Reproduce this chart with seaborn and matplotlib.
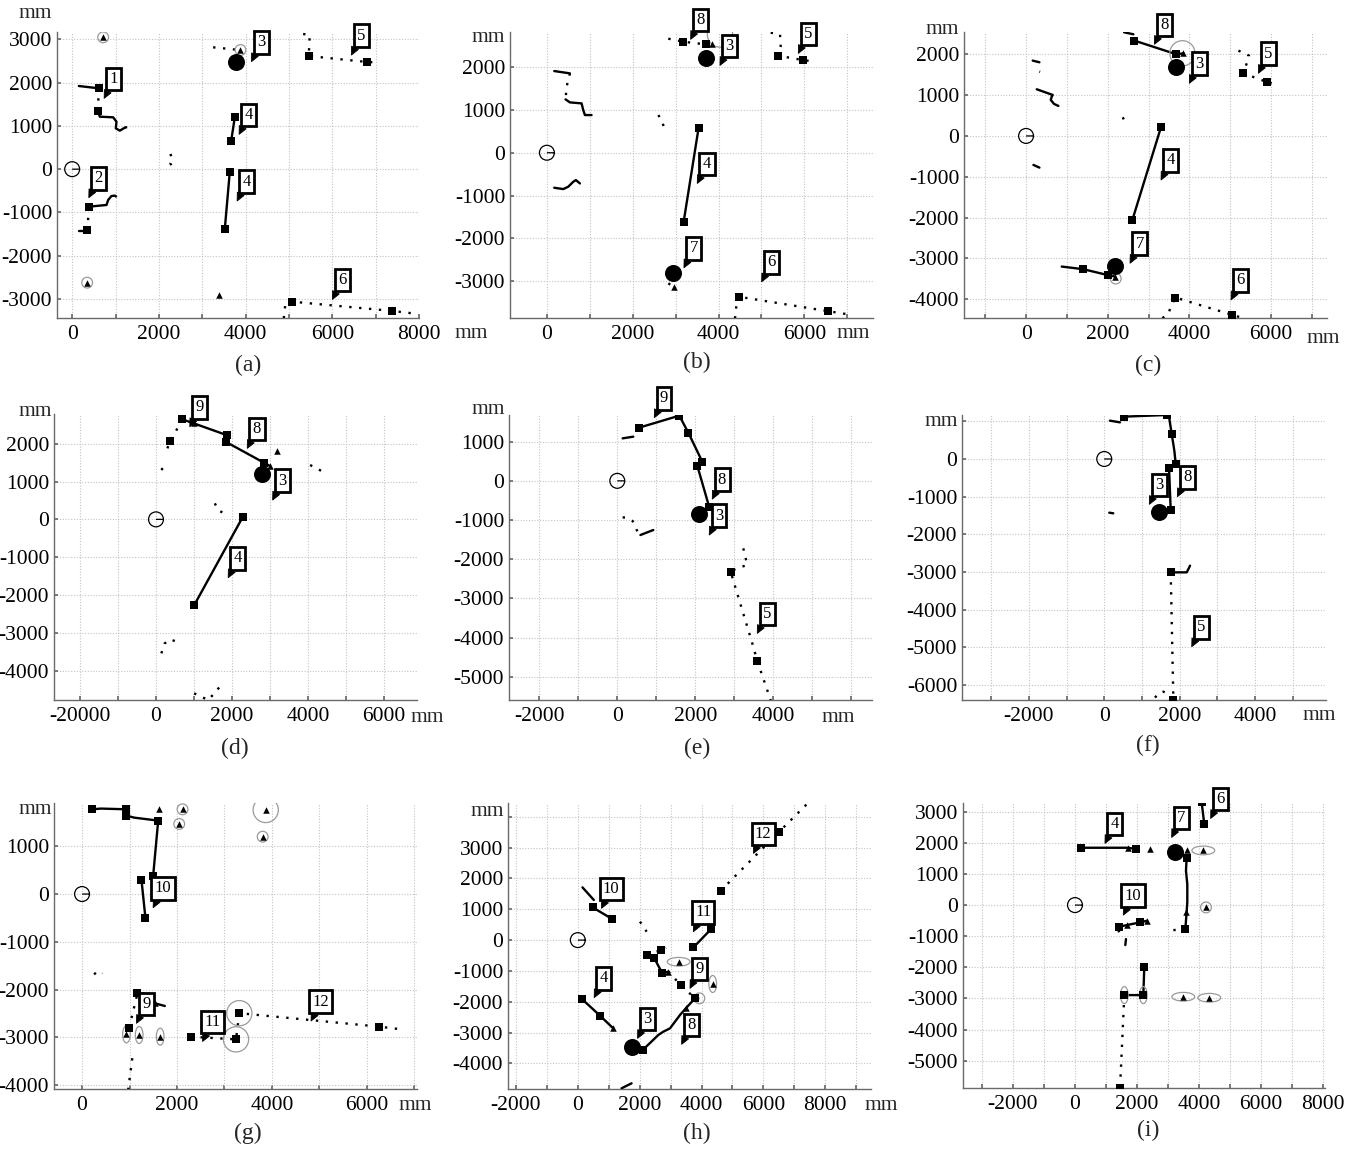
import matplotlib
matplotlib.use("Agg")
import matplotlib.pyplot as plt
import seaborn as sns
from matplotlib.path import Path
from matplotlib.transforms import Affine2D

# ---------------------------------------------------------------- data
ORIGIN = (0, 0)

# ---- panel (a)
A_XLIM = (-350, 8000); A_YLIM = (-3440, 3170)
A_XLAB = [0, 2000, 4000, 6000, 8000]
A_YLAB = [-3000, -2000, -1000, 0, 1000, 2000, 3000]
A_SOLID = [[(154, 1922), (615, 1868)],
           [(592, 1344), (638, 1213), (945, 1198), (1022, 1098), (1007, 944), (1099, 890), (1214, 959)],
           [(154, -1429), (346, -1429)],
           [(392, -866), (792, -828), (830, -713), (907, -620), (984, -612)],
           [(3666, 643), (3751, 1198)],
           [(3636, -58), (3520, -1390)]]
A_DOTTED = [[(615, 1868), (592, 1344)],
            [(1214, 959), (1330, 990)],
            [(346, -1406), (392, -866)],
            [(984, -612), (1099, -690)],
            [(2267, 351), (2313, 213), (2267, 135), (2313, 19)],
            [(3251, 2816), (3866, 2754)],
            [(5327, 3124), (5480, 3100), (5457, 2615), (6810, 2476), (7002, 2469)],
            [(4881, -3447), (4919, -3100), (5065, -3062), (7387, -3277), (7840, -3331)]]
A_SQUARES = [(615, 1868), (592, 1344), (346, -1406), (392, -866), (3666, 643), (3751, 1198),
             (3636, -58), (3520, -1390), (5457, 2615), (6810, 2476), (5065, -3062), (7387, -3277)]
A_DISCS = [(3774, 2469)]
A_TRIS = [(715, 3047), (346, -2623), (3382, -2908), (3882, 2754)]
A_RINGS = [(715, 3047), (346, -2623), (3882, 2754)]
A_RINGS_BIG = []; A_RINGS_WIDE = []; A_RINGS_TALL = []
A_LABELS = [("1", 738, 1637), ("2", 384, -659), ("3", 4135, 2485), ("4", 3851, 805),
            ("4", 3805, -735), ("5", 6441, 2638), ("6", 6003, -3010)]

# ---- panel (b)
B_XLIM = (-860, 7600); B_YLIM = (-3860, 2820)
B_XLAB = [0, 2000, 4000, 6000]
B_YLAB = [-3000, -2000, -1000, 0, 1000, 2000]
B_SOLID = [[(171, 1908), (536, 1854)],
           [(435, 1246), (536, 1176), (808, 1153), (847, 997), (886, 880), (1041, 880)],
           [(171, -818), (381, -849), (497, -794), (614, -678), (676, -639), (769, -717)],
           [(3536, 584), (3186, -1620)]]
B_DOTTED = [[(536, 1854), (459, 1542), (435, 1246)],
            [(2596, 880), (2673, 763), (2712, 646), (2751, 530)],
            [(2829, 2664), (3179, 2593), (3699, 2531), (3839, 2547)],
            [(5215, 2804), (5433, 2765), (5448, 2477), (5394, 2266), (5961, 2165), (6132, 2142)],
            [(4383, -3871), (4438, -3364), (4477, -3364), (6544, -3699), (6987, -3769)],
            [(2830, -3050), (2953, -3131)]]
B_SQUARES = [(3536, 584), (3186, -1620), (3179, 2593), (3699, 2531), (5394, 2266), (5961, 2165),
             (4477, -3364), (6544, -3699)]
B_DISCS = [(3707, 2220), (2930, -2819)]
B_TRIS = [(3839, 2547), (2953, -3131)]
B_RINGS = []; B_RINGS_BIG = [(4034, 2760)]; B_RINGS_WIDE = []; B_RINGS_TALL = []
B_LABELS = [("8", 3350, 2648), ("3", 4034, 2040), ("5", 5860, 2321), ("4", 3505, -717),
            ("7", 3194, -2687), ("6", 5005, -3014)]

# ---- panel (c)
C_XLIM = (-1520, 7370); C_YLIM = (-4460, 2546)
C_XLAB = [0, 2000, 4000, 6000]
C_YLAB = [-4000, -3000, -2000, -1000, 0, 1000, 2000]
C_SOLID = [[(163, 1845), (327, 1804)],
           [(261, 1143), (653, 1004), (629, 963), (604, 882), (686, 784), (792, 735)],
           [(180, -710), (327, -776)],
           [(3306, 220), (2604, -2057)],
           [(2400, 2539), (2629, 2490)],
           [(2653, 2335), (3682, 2000), (3853, 2024)],
           [(873, -3200), (1404, -3265), (2016, -3412), (2180, -3445)]]
C_DOTTED = [[(327, 1576), (345, 1570)],
            [(2367, 457), (2400, 392), (2506, 269)],
            [(5200, 2090), (5461, 1967), (5404, 1780), (5322, 1535), (5894, 1322), (6016, 1290)],
            [(3339, -4465), (3486, -4343), (3551, -4180), (3657, -3959), (5053, -4384), (5322, -4465)]]
C_SQUARES = [(3306, 220), (2604, -2057), (2653, 2335), (3682, 2000), (5322, 1535), (5894, 1322),
             (1404, -3265), (2016, -3412), (3657, -3959), (5053, -4384)]
C_DISCS = [(3682, 1682), (2180, -3176)]
C_TRIS = [(3853, 2024), (2180, -3445)]
C_RINGS = [(2196, -3494)]; C_RINGS_BIG = [(3829, 2024)]; C_RINGS_WIDE = []; C_RINGS_TALL = []
C_LABELS = [("8", 3143, 2245), ("3", 4000, 1290), ("5", 5690, 1535), ("4", 3306, -1078),
            ("7", 2547, -3118), ("6", 5020, -4016)]

# ---- panel (d)
D_XLIM = (-2684, 6868); D_YLIM = (-4775, 2785)
D_XLAB = [-2000, 0, 2000, 4000, 6000]
D_XLAB_TEXT = ["-20000", "0", "2000", "4000", "6000"]
D_YLAB = [-4000, -3000, -2000, -1000, 0, 1000, 2000]
D_SOLID = [[(695, 2643), (1100, 2500), (1856, 2229)],
           [(1830, 2053), (2841, 1498), (3000, 1410)],
           [(2287, 70), (1003, -2273)]]
D_DOTTED = [[(141, 1304), (273, 1480)],
            [(299, 1877), (378, 2070), (695, 2643)],
            [(4056, 1436), (4390, 1260)],
            [(1548, 423), (1636, 247), (1786, 159)],
            [(141, -3542), (229, -3278), (378, -3172), (537, -3233), (607, -3322)],
            [(1003, -4599), (1372, -4775), (1575, -4555), (1724, -4361)]]
D_SQUARES = [(378, 2070), (695, 2643), (1856, 2229), (1830, 2053), (2841, 1498), (2287, 70), (1003, -2273)]
D_DISCS = [(2780, 1189)]
D_TRIS = [(3000, 1410), (3176, 1815), (1000, 2560)]
D_RINGS = []; D_RINGS_BIG = []; D_RINGS_WIDE = []; D_RINGS_TALL = []
D_LABELS = [("9", 889, 2449), ("8", 2402, 1877), ("3", 3070, 511), ("4", 1900, -1542)]

# ---- panel (e)
E_XLIM = (-2777, 6531); E_YLIM = (-5595, 1681)
E_XLAB = [-2000, 0, 2000, 4000]
E_YLAB = [-5000, -4000, -3000, -2000, -1000, 0, 1000]
E_SOLID = [[(137, 1085), (410, 1128)],
           [(556, 1357), (1590, 1664), (1821, 1230), (2179, 489), (2051, 387), (2359, -677), (2103, -855)],
           [(593, -1383), (923, -1255)]]
E_DOTTED = [[(137, -932), (239, -940), (393, -1026), (538, -1340), (593, -1383)],
            [(3231, -1723), (3333, -2149), (3060, -2234), (2906, -2319), (3462, -4149), (3590, -4600), (3932, -5596)]]
E_SQUARES = [(556, 1357), (1590, 1664), (1821, 1230), (2179, 489), (2051, 387), (2359, -677),
             (2906, -2319), (3590, -4600)]
E_DISCS = [(2103, -855)]
E_TRIS = []
E_RINGS = []; E_RINGS_BIG = []; E_RINGS_WIDE = []; E_RINGS_TALL = []
E_LABELS = [("9", 949, 1613), ("8", 2436, -464), ("3", 2359, -1383), ("5", 3590, -3894)]

# ---- panel (f)
F_XLIM = (-3770, 5877); F_YLIM = (-6398, 1168)
F_XLAB = [-2000, 0, 2000, 4000]
F_YLAB = [-6000, -5000, -4000, -3000, -2000, -1000, 0]
F_SOLID = [[(150, 1018), (416, 973)],
           [(522, 1124), (1655, 1168), (1720, 1100), (1788, 664), (1830, 400), (1860, 200), (1894, -133)],
           [(1717, -230), (1761, -1354)],
           [(133, -1425), (239, -1442)],
           [(1761, -3009), (2186, -3009), (2274, -2832)]]
F_DOTTED = [[(1761, -3009), (1832, -6398)],
            [(1345, -6336), (1434, -6221), (1566, -6177), (1655, -6221)]]
F_SQUARES = [(522, 1124), (1655, 1168), (1788, 664), (1894, -133), (1717, -230), (1761, -1354),
             (1761, -3009), (1832, -6398)]
F_DISCS = [(1460, -1398)]
F_TRIS = []
F_RINGS = []; F_RINGS_BIG = []; F_RINGS_WIDE = []; F_RINGS_TALL = []
F_LABELS = [("9", 1097, 1257), ("8", 1938, -1000), ("3", 1195, -1204), ("5", 2319, -4982)]

# ---- panel (g)
G_XLIM = (-591, 7056); G_YLIM = (-4084, 1907)
G_XLAB = [0, 2000, 4000, 6000]
G_YLAB = [-4000, -3000, -2000, -1000, 0, 1000]
G_SOLID = [[(211, 1775), (400, 1790), (935, 1775)],
           [(935, 1643), (1100, 1600), (1604, 1538), (1498, 385)],
           [(1252, 294), (1336, -509)],
           [(1533, -2289), (1744, -2345)]]
G_DOTTED = [[(971, -4106), (1076, -3301)],
            [(992, -2800), (1168, -2080), (1300, -2080), (1340, -2140)],
            [(253, -1682), (338, -1612), (429, -1661)],
            [(2286, -2989), (3243, -3044), (3313, -2496), (6260, -2778), (6668, -2827)],
            [(1252, 294), (1400, 330)]]
G_SQUARES = [(211, 1775), (935, 1775), (935, 1643), (1604, 1538), (1498, 385), (1252, 294), (1336, -509),
             (992, -2800), (1168, -2080), (2286, -2989), (3243, -3044), (3313, -2496), (6260, -2778)]
G_DISCS = []
G_TRIS = [(1625, 1775), (2117, 1775), (2047, 1468), (3869, 1761), (3805, 1202), (1533, -2289),
          (935, -2939), (1203, -2953), (1646, -2988)]
G_RINGS = [(2117, 1775), (2047, 1468), (3805, 1202)]
G_RINGS_BIG = [(3869, 1761), (3243, -3044), (3313, -2496)]
G_RINGS_WIDE = []
G_RINGS_TALL = [(935, -2939), (1203, -2953), (1646, -2988)]
G_LABELS = [("10", 1498, -286), ("9", 1147, -2708), ("11", 2539, -3088), ("12", 4825, -2659)]

# ---- panel (h)
H_XLIM = (-2257, 9478); H_YLIM = (-4834, 4451)
H_XLAB = [-2000, 0, 2000, 4000, 6000, 8000]
H_YLAB = [-4000, -3000, -2000, -1000, 0, 1000, 2000, 3000]
H_SOLID = [[(151, 1712), (518, 1302)],
           [(475, 1064), (1112, 685)],
           [(3735, -240), (4297, 345)],
           [(2245, -485), (2461, -568), (2731, -1076), (2926, -1022)],
           [(140, -1919), (713, -2449), (1144, -2863)],
           [(3789, -1890), (3519, -2183), (3303, -2432), (2980, -2865), (2764, -2973), (2602, -3081), (2094, -3572)],
           [(1414, -4811), (1738, -4649)]]
H_DOTTED = [[(4621, 1605), (6488, 3496), (7427, 4437)],
            [(2008, 598), (2100, 480), (2224, 274)],
            [(2245, -485), (2450, -400), (2688, -335), (2850, -250)],
            [(2926, -1022), (3325, -1457), (3789, -1890), (3930, -1890)]]
H_SQUARES = [(4621, 1605), (6488, 3496), (475, 1064), (1112, 685), (3735, -240), (4297, 345),
             (2245, -485), (2461, -568), (2688, -335), (2731, -1076), (3325, -1457), (3789, -1890),
             (140, -1919), (713, -2449), (2094, -3572)]
H_DISCS = [(1738, -3480)]
H_TRIS = [(2926, -1022), (3260, -703), (4361, -1425), (1144, -2863), (3500, -2200)]
H_RINGS = [(3930, -1890)]; H_RINGS_BIG = []
H_RINGS_WIDE = [(3260, -703)]; H_RINGS_TALL = [(4361, -1425)]
H_LABELS = [("12", 5679, 2816), ("10", 766, 1032), ("11", 3735, 273), ("9", 3627, -1565),
            ("4", 529, -1868), ("3", 1932, -3189), ("8", 3357, -3383)]

# ---- panel (i)
I_XLIM = (-3608, 8054); I_YLIM = (-5877, 3280)
I_XLAB = [-2000, 0, 2000, 4000, 6000, 8000]
I_YLAB = [-5000, -4000, -3000, -2000, -1000, 0, 1000, 2000, 3000]
I_SOLID = [[(193, 1842), (1718, 1842), (1954, 1799)],
           [(4080, 3299), (4166, 2592)],
           [(3597, 1521), (3575, 1100), (3618, 670), (3618, 100), (3597, -214), (3554, -782)],
           [(1428, -696), (1664, -643), (2094, -557), (2319, -503)],
           [(1643, -1092), (1621, -1285)],
           [(2233, -1981), (2201, -2892), (1589, -2892)]]
I_DOTTED = [[(3704, 3341), (4080, 3299)],
            [(3168, -803), (3554, -782)],
            [(1396, -803), (1450, -942)],
            [(1589, -2892), (1450, -5890)]]
I_SQUARES = [(193, 1842), (1954, 1799), (4080, 3299), (4166, 2592), (3597, 1521), (3554, -782),
             (1428, -696), (2094, -557), (2233, -1981), (2201, -2892), (1589, -2892), (1450, -5890)]
I_DISCS = [(3232, 1714)]
I_TRIS = [(1718, 1842), (2416, 1799), (3597, 1767), (4134, 1756), (3565, -214), (4220, -75),
          (1664, -643), (2319, -503), (3490, -2945), (4327, -2977)]
I_RINGS = [(4220, -75)]; I_RINGS_BIG = []
I_RINGS_WIDE = [(4134, 1756), (3490, -2945), (4327, -2977)]
I_RINGS_TALL = [(2201, -2892), (1589, -2892)]
I_LABELS = [("4", 966, 1981), ("7", 3114, 2174), ("6", 4370, 2784), ("10", 1557, -321)]

PANEL_NAMES = ["(a)", "(b)", "(c)", "(d)", "(e)", "(f)", "(g)", "(h)", "(i)"]

# ---------------------------------------------------------------- layout / style
W, H = 1354, 1149
AX_BOX = [(57, 419, 32, 318), (510, 873, 32, 318), (964, 1327, 32, 318),
          (54, 417, 414, 700), (509, 872, 415, 700), (962, 1326, 415, 700),
          (54, 417, 803, 1089), (508, 871, 803, 1089), (963, 1325, 803, 1088)]
NAME_POS = [(248, 365), (697, 362), (1148, 365), (235, 748), (697, 748), (1148, 745),
            (248, 1133), (697, 1133), (1148, 1130)]
MM_POS = [(35, 13), (488, 37), (471, 334), (853, 334), (942, 29), (1323, 338),
          (35, 412), (427, 718), (488, 410), (838, 717), (941, 421), (1319, 715),
          (35, 810), (415, 1105), (487, 811), (881, 1105)]

sns.set_theme(style="white")
plt.rcParams['font.family'] = ['Liberation Serif', 'DejaVu Serif']
plt.rcParams['axes.unicode_minus'] = False

DOT = (0, (1, 3.2))
WIDE_M = Affine2D().scale(1.0, 0.38).transform_path(Path.unit_circle())
TALL_M = Affine2D().scale(0.45, 1.0).transform_path(Path.unit_circle())
ORIGIN_M = Path.make_compound_path(Path.unit_circle(),
                                   Path([(0, 0), (1, 0)], [Path.MOVETO, Path.LINETO]))
RING_C = '#9a9a9a'
TICK_FS = 15.5


def panel(prefix):
    g = globals()
    d = {k: g[prefix + "_" + k] for k in
         ["XLIM", "YLIM", "XLAB", "YLAB", "SOLID", "DOTTED", "SQUARES", "DISCS", "TRIS",
          "RINGS", "RINGS_BIG", "RINGS_WIDE", "RINGS_TALL", "LABELS"]}
    d["XLAB_TEXT"] = g.get(prefix + "_XLAB_TEXT", [str(v) for v in d["XLAB"]])
    return d


PANELS = [panel(p) for p in "ABCDEFGHI"]


def xy(points):
    return [p[0] for p in points], [p[1] for p in points]


def rings(ax, pts, marker, s):
    if pts:
        x, y = xy(pts)
        ax.scatter(x, y, marker=marker, s=s, facecolors='none', edgecolors=RING_C,
                   linewidths=0.9, zorder=3)


fig = plt.figure(figsize=(W / 100, H / 100), dpi=100)
fig.patch.set_facecolor('white')

for p, box, name, npos in zip(PANELS, AX_BOX, PANEL_NAMES, NAME_POS):
    l, r, t, b = box
    ax = fig.add_axes([l / W, 1 - b / H, (r - l) / W, (b - t) / H])
    ax.set_facecolor('white')

    for line in p["SOLID"]:
        x, y = xy(line)
        sns.lineplot(x=x, y=y, sort=False, estimator=None, color='black', lw=1.7, ax=ax, zorder=3)
    for line in p["DOTTED"]:
        x, y = xy(line)
        sns.lineplot(x=x, y=y, sort=False, estimator=None, color='black', lw=1.7,
                     linestyle=DOT, ax=ax, zorder=3)

    rings(ax, p["RINGS"], 'o', 60)
    rings(ax, p["RINGS_BIG"], 'o', 330)
    rings(ax, p["RINGS_WIDE"], WIDE_M, 270)
    rings(ax, p["RINGS_TALL"], TALL_M, 150)

    if p["SQUARES"]:
        x, y = xy(p["SQUARES"])
        sns.scatterplot(x=x, y=y, marker='s', s=40, color='black', edgecolor='black',
                        linewidth=0, ax=ax, zorder=4)
    if p["TRIS"]:
        x, y = xy(p["TRIS"])
        sns.scatterplot(x=x, y=y, marker='^', s=22, color='black', edgecolor='black',
                        linewidth=0, ax=ax, zorder=4)
    if p["DISCS"]:
        x, y = xy(p["DISCS"])
        sns.scatterplot(x=x, y=y, marker='o', s=150, color='black', edgecolor='black',
                        linewidth=0, ax=ax, zorder=5)

    ax.scatter([ORIGIN[0]], [ORIGIN[1]], marker=ORIGIN_M, s=115, facecolors='none',
               edgecolors='black', linewidths=0.9, zorder=4)

    for txt, tx, ty in p["LABELS"]:
        ax.annotate(txt, xy=(tx, ty), xytext=(7, 14), textcoords='offset points',
                    ha='center', va='center', fontsize=12, color='black',
                    bbox=dict(boxstyle='square,pad=0.2', fc='white', ec='black', lw=2.0),
                    arrowprops=dict(arrowstyle='wedge,tail_width=0.45', fc='black', ec='black',
                                    lw=0.6, shrinkA=0, shrinkB=0),
                    zorder=6)

    x0, x1 = p["XLIM"]; y0, y1 = p["YLIM"]
    ax.set_xlim(x0, x1); ax.set_ylim(y0, y1)
    xt = [v for v in range(-10000, 12001, 1000) if x0 <= v <= x1 + 1]
    yt = [v for v in range(-10000, 12001, 1000) if y0 <= v <= y1]
    labmap = dict(zip(p["XLAB"], p["XLAB_TEXT"]))
    ax.set_xticks(xt)
    ax.set_xticklabels([labmap.get(v, "") for v in xt])
    ax.set_yticks(yt)
    ax.set_yticklabels([str(v) if v in p["YLAB"] else "" for v in yt])
    ax.set_xlabel(""); ax.set_ylabel("")
    ax.grid(True, color='#c4c4c4', linestyle=(0, (1, 1.5)), lw=0.8)
    ax.set_axisbelow(True)
    for s in ['top', 'right']:
        ax.spines[s].set_visible(False)
    for s in ['left', 'bottom']:
        ax.spines[s].set_color('#6a6a6a'); ax.spines[s].set_linewidth(1.0)
    ax.tick_params(axis='both', direction='in', length=3, color='#6a6a6a',
                   labelsize=TICK_FS, labelcolor='black', left=True, bottom=True)
    ax.tick_params(axis='x', pad=5)
    ax.tick_params(axis='y', pad=3.5)

    fig.text(npos[0] / W, 1 - npos[1] / H, name, ha='center', va='center', fontsize=17)

for mx, my in MM_POS:
    fig.text(mx / W, 1 - my / H, "mm", ha='center', va='center', fontsize=TICK_FS)

fig.savefig("out.png", dpi=100, facecolor='white')
